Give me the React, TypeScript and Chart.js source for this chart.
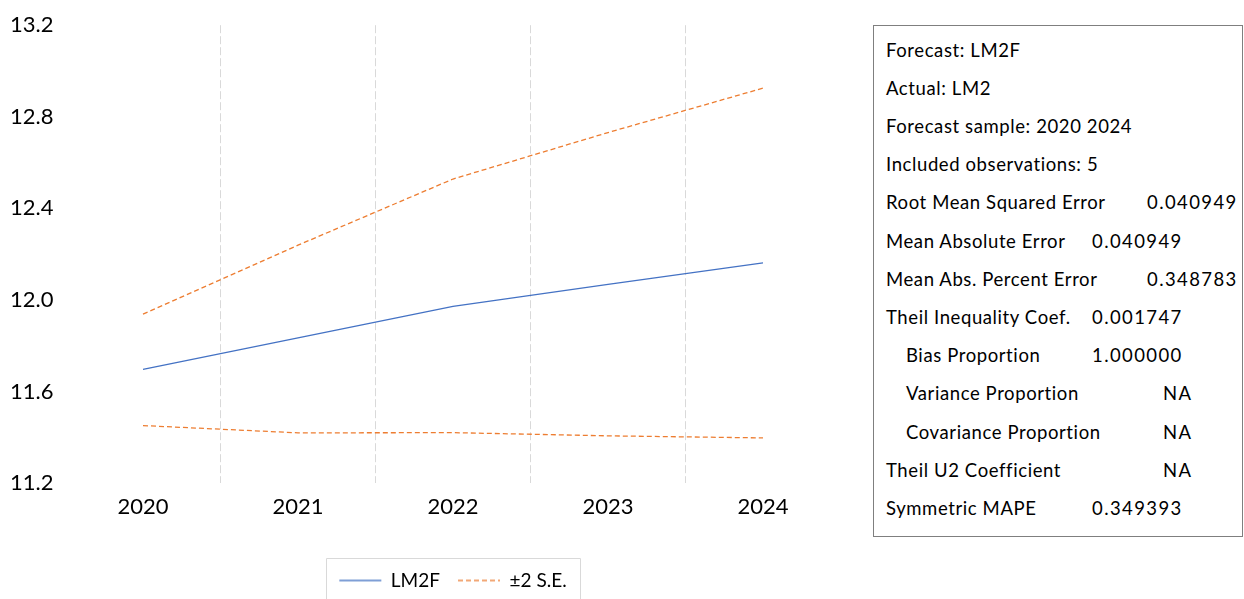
import React, { useEffect, useRef } from "react";
import { Chart, registerables } from "chart.js";

Chart.register(...registerables);

// ---------- data ----------
const years = ["2020", "2021", "2022", "2023", "2024"];
const lm2f = [11.696, 11.834, 11.972, 12.068, 12.162];
const upperBand = [11.938, 12.239, 12.528, 12.731, 12.925];
const lowerBand = [11.451, 11.419, 11.42, 11.406, 11.397];
const seriesNames = ["LM2F", "±2 S.E."];
const yMin = 11.2;
const yMax = 13.2;
const yStep = 0.4;

const statLabels = [
  "Forecast: LM2F",
  "Actual: LM2",
  "Forecast sample: 2020 2024",
  "Included observations: 5",
  "Root Mean Squared Error",
  "Mean Absolute Error",
  "Mean Abs. Percent Error",
  "Theil Inequality Coef.",
  "Bias Proportion",
  "Variance Proportion",
  "Covariance Proportion",
  "Theil U2 Coefficient",
  "Symmetric MAPE",
];
const statValues = [
  "",
  "",
  "",
  "",
  "0.040949",
  "0.040949",
  "0.348783",
  "0.001747",
  "1.000000",
  "NA",
  "NA",
  "NA",
  "0.349393",
];

// ---------- layout / style (not data) ----------
const statIndent = [0, 0, 0, 0, 0, 0, 0, 0, 1, 1, 1, 0, 0];
const statValueLeft = [0, 0, 0, 0, 1147, 1092, 1147, 1092, 1092, 1163, 1163, 1163, 1092];
const BLUE = "#4472C4";
const ORANGE = "#ED7D31";
const LEGEND_BLUE = "#7f9fd6";
const LEGEND_ORANGE = "#f2a877";
const FONT = "Lato, 'Liberation Sans', sans-serif";

const legendBoxPlugin = {
  id: "legendBox",
  afterDraw(chart: any) {
    const lg = chart.legend;
    if (!lg || !lg.legendHitBoxes || !lg.legendHitBoxes.length) return;
    const hb = lg.legendHitBoxes;
    const first = hb[0];
    const last = hb[hb.length - 1];
    const left = first.left - 13.7;
    const right = last.left + last.width + 13.4;
    const top = first.top - 13;
    const ctx = chart.ctx;
    ctx.save();
    ctx.strokeStyle = "#d9d9d9";
    ctx.lineWidth = 1;
    ctx.setLineDash([]);
    ctx.beginPath();
    ctx.moveTo(Math.round(left) + 0.5, chart.height + 20);
    ctx.lineTo(Math.round(left) + 0.5, Math.round(top) + 0.5);
    ctx.lineTo(Math.round(right) + 0.5, Math.round(top) + 0.5);
    ctx.lineTo(Math.round(right) + 0.5, chart.height + 20);
    ctx.stroke();
    ctx.restore();
  },
};

function ForecastChart() {
  const ref = useRef<HTMLCanvasElement | null>(null);
  useEffect(() => {
    if (!ref.current) return;
    const legendColors = [LEGEND_BLUE, LEGEND_ORANGE, LEGEND_ORANGE];
    const chart = new Chart(ref.current, {
      type: "line",
      data: {
        labels: years,
        datasets: [
          {
            label: seriesNames[0],
            data: lm2f,
            borderColor: BLUE,
            backgroundColor: BLUE,
            borderWidth: 1.3,
            pointRadius: 0,
            tension: 0,
          },
          {
            label: seriesNames[1],
            data: upperBand,
            borderColor: ORANGE,
            backgroundColor: ORANGE,
            borderWidth: 1.3,
            borderDash: [5, 3],
            pointRadius: 0,
            tension: 0,
          },
          {
            label: seriesNames[1],
            data: lowerBand,
            borderColor: ORANGE,
            backgroundColor: ORANGE,
            borderWidth: 1.3,
            borderDash: [5, 3],
            pointRadius: 0,
            tension: 0,
          },
        ],
      },
      options: {
        animation: false,
        responsive: false,
        events: [],
        layout: { padding: { top: 25, left: 12, right: 19.5, bottom: 0 } },
        plugins: {
          tooltip: { enabled: false },
          legend: {
            position: "bottom",
            fullSize: false,
            labels: {
              usePointStyle: true,
              pointStyle: "line",
              pointStyleWidth: 42,
              padding: 18,
              color: "#000",
              font: { family: FONT, size: 19 },
              filter: (item: any) => item.datasetIndex !== 2,
              generateLabels: (c: any) =>
                (Chart as any).defaults.plugins.legend.labels
                  .generateLabels(c)
                  .map((l: any) => ({
                    ...l,
                    pointStyle: "line",
                    lineDash: c.data.datasets[l.datasetIndex].borderDash || [],
                    lineWidth: 1.8,
                    strokeStyle: legendColors[l.datasetIndex],
                    fillStyle: legendColors[l.datasetIndex],
                  })),
            },
          },
        },
        scales: {
          x: {
            type: "category",
            offset: true,
            afterFit: (s: any) => {
              s.height = 70;
            },
            grid: {
              offset: true,
              drawTicks: false,
              lineWidth: 1,
              color: (c: any) =>
                c.type === "tick" && c.index > 0 ? "#d9d9d9" : "rgba(0,0,0,0)",
            },
            border: { display: false, dash: [8, 3] },
            ticks: {
              color: "#000",
              padding: 11,
              font: { family: FONT, size: 22 },
              maxRotation: 0,
            },
          },
          y: {
            min: yMin,
            max: yMax,
            afterFit: (s: any) => {
              s.width = 53.5;
            },
            grid: { display: false, drawTicks: false },
            border: { display: false },
            ticks: {
              stepSize: yStep,
              color: "#000",
              padding: 12,
              font: { family: FONT, size: 22 },
              callback: (v: any) => Number(v).toFixed(1),
            },
          },
        },
      },
      plugins: [legendBoxPlugin],
    } as any);
    return () => chart.destroy();
  }, []);
  return (
    <canvas
      ref={ref}
      width={860}
      height={600}
      style={{ position: "absolute", left: 0, top: 0, width: 860, height: 600 }}
    />
  );
}

function StatsBox() {
  return (
    <div
      style={{
        position: "absolute",
        left: 873,
        top: 25,
        width: 370,
        height: 512,
        border: "1px solid #7f7f7f",
        boxSizing: "border-box",
        fontFamily: FONT,
        fontSize: 18.5,
        color: "#000",
      }}
    >
      {statLabels.map((lab, i) => (
        <React.Fragment key={i}>
          <div
            style={{
              position: "absolute",
              left: statIndent[i] ? 32 : 12,
              top: 11.5 + i * 38.2,
              lineHeight: "24px",
              whiteSpace: "nowrap",
              letterSpacing: "0.6px",
            }}
          >
            {lab}
          </div>
          {statValues[i] ? (
            <div
              style={{
                position: "absolute",
                left: statValueLeft[i] - 874,
                top: 11.5 + i * 38.2,
                lineHeight: "24px",
                whiteSpace: "nowrap",
                letterSpacing: "1.4px",
              }}
            >
              {statValues[i]}
            </div>
          ) : null}
        </React.Fragment>
      ))}
    </div>
  );
}

export default function App() {
  return (
    <div
      style={{
        position: "absolute",
        left: 0,
        top: 0,
        width: 1244,
        height: 599,
        overflow: "hidden",
        background: "#fff",
      }}
    >
      <ForecastChart />
      <StatsBox />
    </div>
  );
}
